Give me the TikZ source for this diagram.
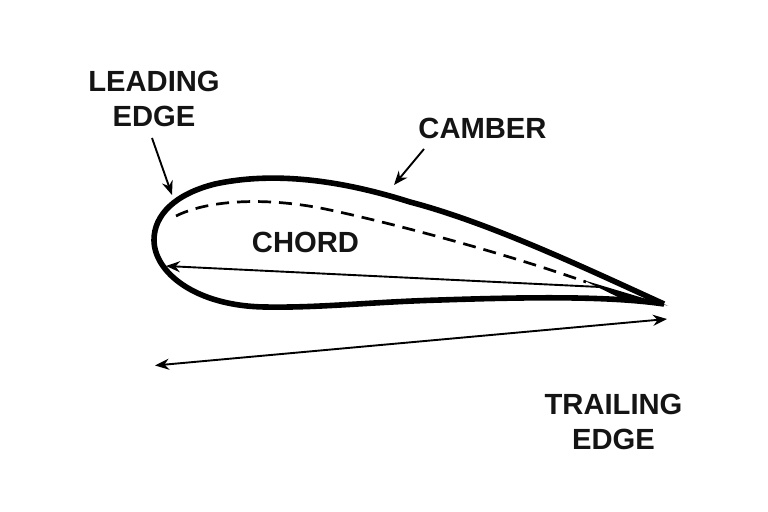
\documentclass[tikz,border=0pt]{standalone}
\usepackage{fontspec}
\setmainfont{Liberation Sans}
\usetikzlibrary{arrows.meta,positioning}

\begin{document}
\begin{tikzpicture}[
		x=1bp, y=-1bp,
		label/.style = {font=\fontsize{29.3}{35}\selectfont\bfseries, align=center, inner sep=0pt, text=black!92},
		foil/.style  = {draw, line width=5.6bp, line join=round},
		pointer/.style = {draw, line width=1.9bp, -{Stealth[length=14bp,width=11bp]}},
		both/.style = {draw, line width=1.9bp, {Stealth[length=14bp,width=11bp]}-{Stealth[length=14bp,width=11bp]}},
		>=latex]
		
		\useasboundingbox (0,0) rectangle (768,512);
		
		% outline of the section, nose first
		\draw[foil] (664,304) .. controls (585,268) and (490,223) .. (410,202)
			.. controls (350,183) and (280,170) .. (215,184)
			.. controls (175,194) and (154,215) .. (154,240)
			.. controls (154,272) and (195,306) .. (265,307)
			.. controls (320,308) and (370,302) .. (440,300)
			.. controls (530,297) and (610,296) .. (664,304);
		
		% thick wedge at the tail
		\fill (583,280) -- (668,305.5) -- (622,299) -- cycle;
		
		% mean line
		\draw[line width=2.7bp, dash pattern=on 13bp off 8bp] (176,216)
			.. controls (210,199) and (270,197) .. (330,210)
			.. controls (400,225) and (510,255) .. (586,282);
		
		% labels
		\node[label] (leading) at (154,99) {LEADING\\EDGE};
		\node[label] (camber) at (482.5,128) {CAMBER};
		\node[label] (chord) at (305.5,242) {CHORD};
		\node[label] (trailing) at (613.5,422) {TRAILING\\EDGE};
		
		% free ends of the connectors
		\coordinate (leadtip) at (172,195);
		\coordinate (leadtail) at (152,138);
		\coordinate (cambertip) at (394,185);
		\coordinate (cambertail) at (424,149);
		\coordinate (chordnose) at (166,266);
		\coordinate (chordtail) at (600,287);
		\coordinate (spanleft) at (155,365.5);
		\coordinate (spanright) at (667,319);
		
		\draw[pointer] (leadtail) -- (leadtip);
		\draw[pointer] (cambertail) -- (cambertip);
		\draw[pointer] (chordtail) -- (chordnose);
		\draw[both] (spanleft) -- (spanright);
		
\end{tikzpicture}
\end{document}
